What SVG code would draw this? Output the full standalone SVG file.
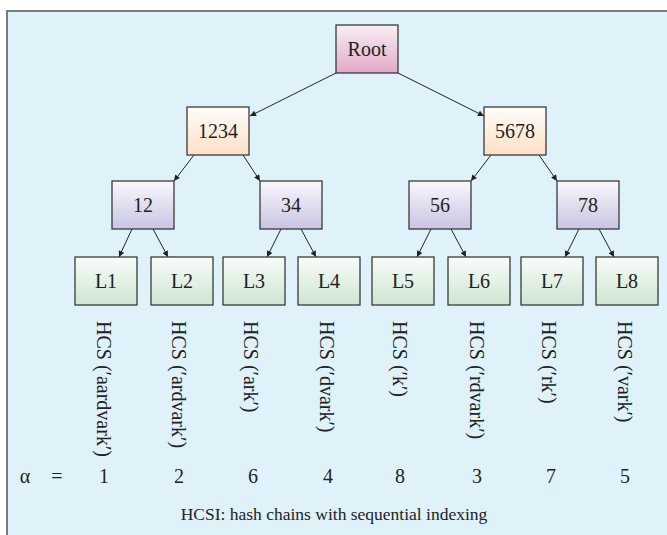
<svg xmlns="http://www.w3.org/2000/svg" width="667" height="535" viewBox="0 0 667 535" font-family="'Liberation Serif', 'Times New Roman', serif">
<defs>
<linearGradient id="gRoot" x1="0" y1="0" x2="0" y2="1"><stop offset="0" stop-color="#f8eff4"/><stop offset="1" stop-color="#e1a9c6"/></linearGradient>
<linearGradient id="gMid" x1="0" y1="0" x2="0" y2="1"><stop offset="0" stop-color="#fffdfb"/><stop offset="1" stop-color="#fde0c4"/></linearGradient>
<linearGradient id="gLow" x1="0" y1="0" x2="0" y2="1"><stop offset="0" stop-color="#f9f8fd"/><stop offset="1" stop-color="#c8c4e2"/></linearGradient>
<linearGradient id="gLeaf" x1="0" y1="0" x2="0" y2="1"><stop offset="0" stop-color="#f8fcf8"/><stop offset="1" stop-color="#cde6d2"/></linearGradient>
<marker id="arr" viewBox="0 0 10 10" refX="10" refY="5" markerWidth="8" markerHeight="6" markerUnits="userSpaceOnUse" orient="auto">
<path d="M0,0 L10,5 L0,10 z" fill="#222"/>
</marker>
</defs>
<style>
.box{stroke:#3a3a3a;stroke-width:1.3}
text{font-family:'Liberation Serif','Times New Roman',serif;fill:#222}
.t{font-size:20px;text-anchor:middle}
.v{font-size:20px}
.cap{font-size:17.5px;text-anchor:middle}
.c line{stroke:#222;stroke-width:1;marker-end:url(#arr)}
</style>
<rect x="7" y="11" width="700" height="600" fill="#dff2fa" stroke="#7a7a7a" stroke-width="2"/>
<g class="c" id="connectors">
<line x1="336" y1="73" x2="250" y2="116"/>
<line x1="398" y1="73" x2="484" y2="116"/>
<line x1="194" y1="155" x2="174" y2="181"/>
<line x1="243" y1="155" x2="260" y2="181"/>
<line x1="491" y1="155" x2="471" y2="181"/>
<line x1="539" y1="155" x2="557" y2="181"/>
<line x1="132" y1="229" x2="119" y2="257"/>
<line x1="153" y1="229" x2="168" y2="257"/>
<line x1="281" y1="229" x2="267" y2="257"/>
<line x1="301" y1="229" x2="316" y2="257"/>
<line x1="431" y1="229" x2="417" y2="257"/>
<line x1="451" y1="229" x2="466" y2="257"/>
<line x1="579" y1="229" x2="565" y2="257"/>
<line x1="599" y1="229" x2="614" y2="257"/>
</g>
<g id="root"><rect class="box" x="336" y="25" width="62" height="48" fill="url(#gRoot)"/><text class="t" x="367" y="56" font-family="Liberation Serif, serif">Root</text></g>
<g id="n1234"><rect class="box" x="187" y="107" width="62" height="48" fill="url(#gMid)"/><text class="t" x="218" y="138" font-family="Liberation Serif, serif">1234</text></g>
<g id="n5678"><rect class="box" x="484" y="107" width="62" height="48" fill="url(#gMid)"/><text class="t" x="515" y="138" font-family="Liberation Serif, serif">5678</text></g>
<g id="n12"><rect class="box" x="112" y="181" width="62" height="48" fill="url(#gLow)"/><text class="t" x="143" y="212" font-family="Liberation Serif, serif">12</text></g>
<g id="n34"><rect class="box" x="260" y="181" width="62" height="48" fill="url(#gLow)"/><text class="t" x="291" y="212" font-family="Liberation Serif, serif">34</text></g>
<g id="n56"><rect class="box" x="409" y="181" width="62" height="48" fill="url(#gLow)"/><text class="t" x="440" y="212" font-family="Liberation Serif, serif">56</text></g>
<g id="n78"><rect class="box" x="557" y="181" width="62" height="48" fill="url(#gLow)"/><text class="t" x="588" y="212" font-family="Liberation Serif, serif">78</text></g>
<g id="L1"><rect class="box" x="75" y="257" width="62" height="48" fill="url(#gLeaf)"/><text class="t" x="106" y="288" font-family="Liberation Serif, serif">L1</text></g>
<g id="L2"><rect class="box" x="151" y="257" width="62" height="48" fill="url(#gLeaf)"/><text class="t" x="182" y="288" font-family="Liberation Serif, serif">L2</text></g>
<g id="L3"><rect class="box" x="223" y="257" width="62" height="48" fill="url(#gLeaf)"/><text class="t" x="254" y="288" font-family="Liberation Serif, serif">L3</text></g>
<g id="L4"><rect class="box" x="298" y="257" width="62" height="48" fill="url(#gLeaf)"/><text class="t" x="329" y="288" font-family="Liberation Serif, serif">L4</text></g>
<g id="L5"><rect class="box" x="372" y="257" width="62" height="48" fill="url(#gLeaf)"/><text class="t" x="403" y="288" font-family="Liberation Serif, serif">L5</text></g>
<g id="L6"><rect class="box" x="448" y="257" width="62" height="48" fill="url(#gLeaf)"/><text class="t" x="479" y="288" font-family="Liberation Serif, serif">L6</text></g>
<g id="L7"><rect class="box" x="521" y="257" width="62" height="48" fill="url(#gLeaf)"/><text class="t" x="552" y="288" font-family="Liberation Serif, serif">L7</text></g>
<g id="L8"><rect class="box" x="596" y="257" width="62" height="48" fill="url(#gLeaf)"/><text class="t" x="627" y="288" font-family="Liberation Serif, serif">L8</text></g>
<g id="labels">
<text class="v" transform="translate(97,321) rotate(90)">HCS (′aardvark′)</text>
<text class="v" transform="translate(172,321) rotate(90)">HCS (′ardvark′)</text>
<text class="v" transform="translate(244,321) rotate(90)">HCS (′ark′)</text>
<text class="v" transform="translate(320,321) rotate(90)">HCS (′dvark′)</text>
<text class="v" transform="translate(393,321) rotate(90)">HCS (′k′)</text>
<text class="v" transform="translate(470,321) rotate(90)">HCS (′rdvark′)</text>
<text class="v" transform="translate(542,321) rotate(90)">HCS (′rk′)</text>
<text class="v" transform="translate(618,321) rotate(90)">HCS (′vark′)</text>
</g>
<g id="alpha">
<text class="t" x="25" y="483" font-family="Liberation Serif, serif">α</text>
<text class="t" x="57" y="483" font-family="Liberation Serif, serif">=</text>
<text class="t" x="104" y="483" font-family="Liberation Serif, serif">1</text>
<text class="t" x="179" y="483" font-family="Liberation Serif, serif">2</text>
<text class="t" x="253" y="483" font-family="Liberation Serif, serif">6</text>
<text class="t" x="328" y="483" font-family="Liberation Serif, serif">4</text>
<text class="t" x="400" y="483" font-family="Liberation Serif, serif">8</text>
<text class="t" x="477" y="483" font-family="Liberation Serif, serif">3</text>
<text class="t" x="551" y="483" font-family="Liberation Serif, serif">7</text>
<text class="t" x="625" y="483" font-family="Liberation Serif, serif">5</text>
</g>
<text class="cap" x="334" y="520">HCSI: hash chains with sequential indexing</text>
</svg>
